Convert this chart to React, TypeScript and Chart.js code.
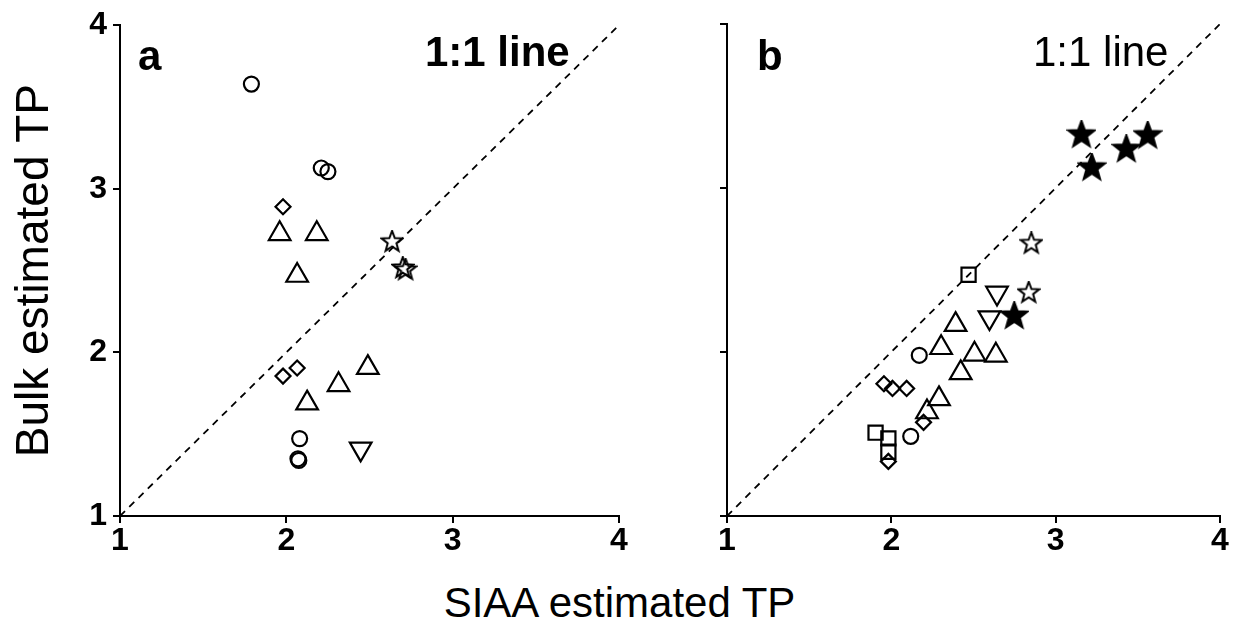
import React, { useEffect, useRef } from 'react';
import { Chart, registerables } from 'chart.js';

Chart.register(...registerables);

const FONT = '"Liberation Sans", Arial, sans-serif';

// axis ticks and the 1:1 reference line
const axisTicks = [1, 2, 3, 4];
const lineX = [1, 4];
const lineY = [1, 4];

// Panel a
const aCircleX = [1.79, 2.21, 2.25, 2.08, 2.07, 2.075];
const aCircleY = [3.64, 3.127, 3.105, 1.473, 1.35, 1.34];
const aDiamondX = [1.98, 1.98, 2.065];
const aDiamondY = [2.89, 1.855, 1.905];
const aUpTriX = [1.96, 2.183, 2.065, 2.49, 2.314, 2.125];
const aUpTriY = [2.725, 2.725, 2.47, 1.907, 1.802, 1.69];
const aDownTriX = [2.447];
const aDownTriY = [1.41];
const aOpenStarX = [2.636, 2.7, 2.717];
const aOpenStarY = [2.676, 2.516, 2.505];

// Panel b
const bFilledStarX = [3.157, 3.22, 3.43, 3.56, 2.748];
const bFilledStarY = [3.325, 3.124, 3.237, 3.32, 2.22];
const bOpenStarX = [2.852, 2.836];
const bOpenStarY = [2.662, 2.362];
const bSquareX = [2.47, 1.904, 1.982, 1.982];
const bSquareY = [2.471, 1.508, 1.473, 1.392];
const bDiamondX = [1.955, 2.007, 2.093, 2.196, 1.982];
const bDiamondY = [1.806, 1.778, 1.778, 1.571, 1.333];
const bCircleX = [2.17, 2.118];
const bCircleY = [1.98, 1.486];
const bUpTriX = [2.391, 2.303, 2.506, 2.636, 2.422, 2.29, 2.217];
const bUpTriY = [2.167, 2.026, 1.986, 1.98, 1.873, 1.714, 1.634];
const bDownTriX = [2.643, 2.597];
const bDownTriY = [2.36, 2.21];

const zip = (xs: number[], ys: number[]) => xs.map((x, i) => ({ x, y: ys[i] }));

function makeStar(size: number, outer: number, inner: number, filled: boolean) {
  const c = document.createElement('canvas');
  c.width = size;
  c.height = size;
  const ctx = c.getContext('2d')!;
  ctx.beginPath();
  for (let i = 0; i < 10; i++) {
    const r = i % 2 === 0 ? outer : inner;
    const a = -Math.PI / 2 + (i * Math.PI) / 5;
    ctx.lineTo(size / 2 + r * Math.cos(a), size / 2 + r * Math.sin(a));
  }
  ctx.closePath();
  if (filled) {
    ctx.fillStyle = '#000';
    ctx.fill();
  }
  ctx.lineWidth = 2;
  ctx.strokeStyle = '#000';
  ctx.stroke();
  return c;
}

const marker = (data: any[], style: any, radius: number, extra: any = {}) => ({
  data,
  pointStyle: style,
  pointRadius: radius,
  pointHoverRadius: radius,
  pointBorderColor: '#000',
  pointBackgroundColor: 'rgba(0,0,0,0)',
  pointBorderWidth: 2.2,
  showLine: false,
  ...extra,
});

const refLine = () => ({
  data: zip(lineX, lineY),
  showLine: true,
  borderColor: '#000',
  borderWidth: 1.8,
  borderDash: [7, 6],
  pointRadius: 0,
  fill: false,
});

function textPlugin(items: { text: string; x: number; y: number; bold: boolean; size: number }[]) {
  return {
    id: 'panelText',
    afterDraw(chart: any) {
      const ctx = chart.ctx;
      ctx.save();
      ctx.fillStyle = '#000';
      ctx.textBaseline = 'alphabetic';
      ctx.textAlign = 'left';
      items.forEach((it) => {
        ctx.font = `${it.bold ? 'bold ' : ''}${it.size}px ${FONT}`;
        ctx.fillText(it.text, it.x, it.y);
      });
      ctx.restore();
    },
  };
}

function scales(showYLabels: boolean, yWidth: number) {
  const tickFont = { family: FONT, size: 32, weight: 'bold' as const };
  const grid = { drawOnChartArea: false, drawTicks: true, tickLength: 7, color: '#000', lineWidth: 2 };
  const border = { display: true, color: '#000', width: 2 };
  return {
    x: {
      type: 'linear' as const,
      min: 1,
      max: 4,
      afterBuildTicks: (s: any) => {
        s.ticks = axisTicks.map((v) => ({ value: v }));
      },
      ticks: { color: '#000', font: tickFont, padding: -1, maxRotation: 0, autoSkip: false },
      grid,
      border,
      afterFit: (s: any) => {
        s.height = 54;
      },
    },
    y: {
      type: 'linear' as const,
      min: 1,
      max: 4,
      afterBuildTicks: (s: any) => {
        s.ticks = axisTicks.map((v) => ({ value: v }));
      },
      ticks: { display: showYLabels, color: '#000', font: tickFont, padding: 6 },
      grid,
      border,
      title: showYLabels
        ? {
            display: true,
            text: 'Bulk estimated TP',
            color: '#000',
            font: { family: FONT, size: 46 },
            padding: { top: 8, bottom: 0 },
          }
        : { display: false },
      afterFit: (s: any) => {
        s.width = yWidth;
      },
    },
  };
}

function baseOptions(padding: any, showYLabels: boolean, yWidth: number) {
  return {
    responsive: false,
    animation: false as const,
    layout: { padding },
    plugins: { legend: { display: false }, tooltip: { enabled: false } },
    scales: scales(showYLabels, yWidth),
  };
}

export default function App() {
  const refA = useRef<HTMLCanvasElement>(null);
  const refB = useRef<HTMLCanvasElement>(null);

  useEffect(() => {
    const openStar = makeStar(24, 11, 4.6, false);
    const filledStar = makeStar(30, 14, 5.8, true);

    const chartA = new Chart(refA.current!, {
      type: 'scatter',
      data: {
        datasets: [
          refLine(),
          marker(zip(aCircleX, aCircleY), 'circle', 7.5),
          marker(zip(aDiamondX, aDiamondY), 'rectRot', 7.5),
          marker(zip(aUpTriX, aUpTriY), 'triangle', 12.5),
          marker(zip(aDownTriX, aDownTriY), 'triangle', 12.5, { pointRotation: 180 }),
          marker(zip(aOpenStarX, aOpenStarY), openStar, 10),
        ] as any,
      },
      options: baseOptions({ top: 24, right: 21, left: 0, bottom: 0 }, true, 120) as any,
      plugins: [
        textPlugin([
          { text: 'a', x: 138, y: 70, bold: true, size: 42 },
          { text: '1:1 line', x: 425, y: 66, bold: true, size: 42 },
        ]),
      ],
    });

    const chartB = new Chart(refB.current!, {
      type: 'scatter',
      data: {
        datasets: [
          refLine(),
          marker(zip(bSquareX, bSquareY), 'rect', 10),
          marker(zip(bDiamondX, bDiamondY), 'rectRot', 7.5),
          marker(zip(bCircleX, bCircleY), 'circle', 7.5),
          marker(zip(bUpTriX, bUpTriY), 'triangle', 12.5),
          marker(zip(bDownTriX, bDownTriY), 'triangle', 12.5, { pointRotation: 180 }),
          marker(zip(bOpenStarX, bOpenStarY), openStar, 10),
          marker(zip(bFilledStarX, bFilledStarY), filledStar, 12),
        ] as any,
      },
      options: baseOptions({ top: 24, right: 19, left: 0, bottom: 0 }, false, 87) as any,
      plugins: [
        textPlugin([
          { text: 'b', x: 117, y: 70, bold: true, size: 42 },
          { text: '1:1 line', x: 393, y: 66, bold: false, size: 42 },
        ]),
      ],
    });

    return () => {
      chartA.destroy();
      chartB.destroy();
    };
  }, []);

  return (
    <div style={{ position: 'absolute', left: 0, top: 0, width: 1239, height: 630, background: '#fff', overflow: 'hidden' }}>
      <canvas ref={refA} width={640} height={570} style={{ position: 'absolute', left: 0, top: 0 }} />
      <canvas ref={refB} width={599} height={570} style={{ position: 'absolute', left: 640, top: 0 }} />
      <div
        style={{
          position: 'absolute',
          left: 0,
          top: 579,
          width: 1239,
          textAlign: 'center',
          fontFamily: FONT,
          fontSize: 42,
          lineHeight: '48px',
          color: '#000',
        }}
      >
        SIAA estimated TP
      </div>
    </div>
  );
}
